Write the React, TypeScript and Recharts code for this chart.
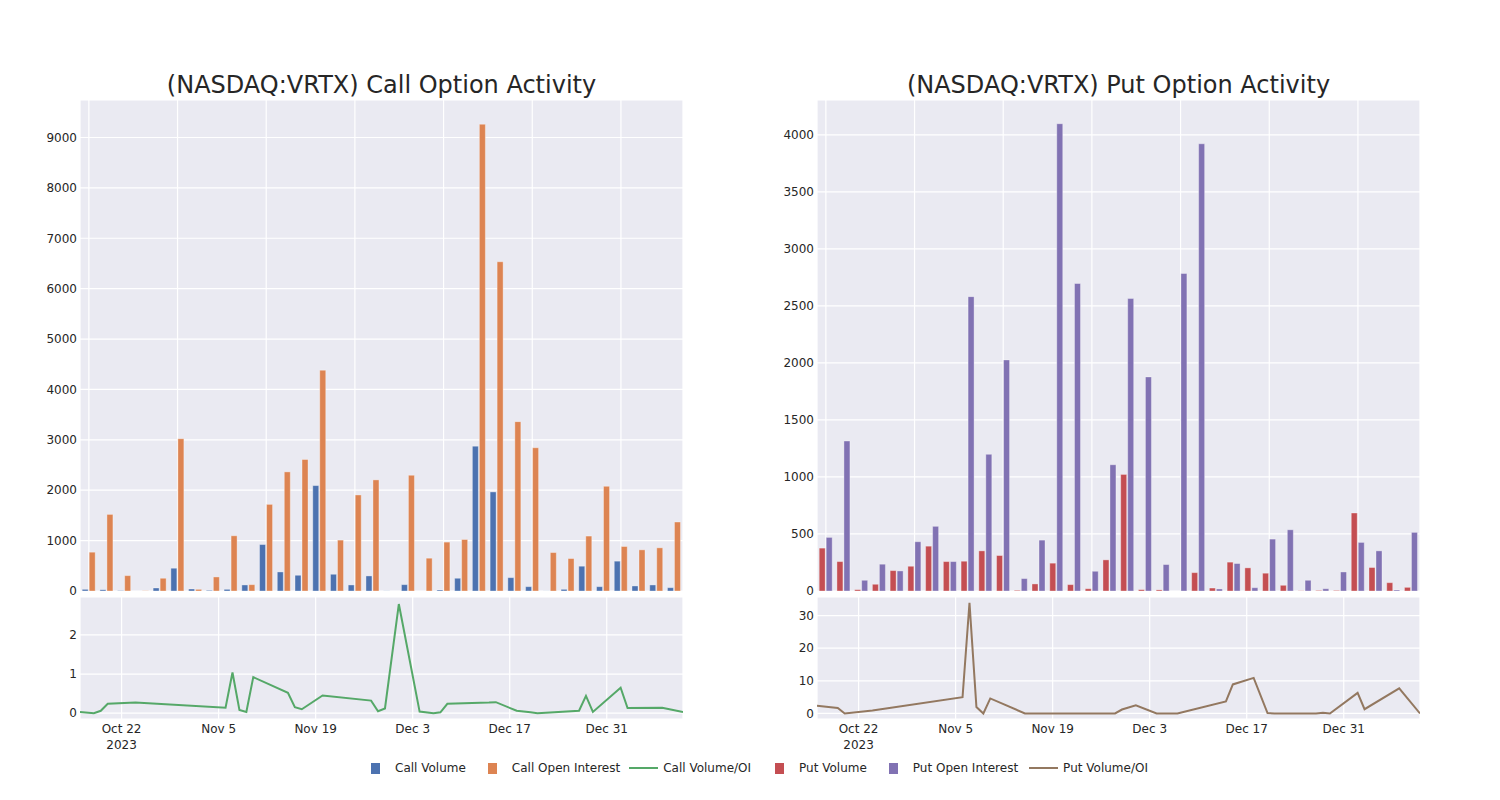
import React from "react";
import { BarChart, Bar, LineChart, Line, XAxis, YAxis, CartesianGrid } from "recharts";

// trading days that have option data
const dates = [
  "2023-10-16", "2023-10-18", "2023-10-19", "2023-10-20", "2023-10-24",
  "2023-11-06", "2023-11-07", "2023-11-08", "2023-11-09", "2023-11-10",
  "2023-11-15", "2023-11-16", "2023-11-17", "2023-11-20", "2023-11-27",
  "2023-11-28", "2023-11-29", "2023-12-01", "2023-12-04", "2023-12-06",
  "2023-12-07", "2023-12-08", "2023-12-14", "2023-12-15", "2023-12-18",
  "2023-12-20", "2023-12-21", "2023-12-27", "2023-12-28", "2023-12-29",
  "2024-01-02", "2024-01-03", "2024-01-08", "2024-01-11",
];

const callVolume = [
  33, 25, 8, 0, 60, 452, 40, 13, 33, 120, 922, 378, 312, 2092, 332, 120, 299,
  3, 126, 0, 20, 253, 2875, 1966, 265, 86, 2, 33, 492, 86, 592, 100, 120, 66,
];
const callOpenInterest = [
  770, 1520, 305, 5, 253, 3022, 33, 279, 1096, 126, 1719, 2364, 2610, 4382, 1010,
  1906, 2205, 0, 2297, 651, 970, 1022, 9263, 6534, 3361, 2843, 763, 644, 1090,
  2078, 883, 817, 857, 1369,
];
const callRatio = [
  0.03, 0.0, 0.06, 0.24, 0.27, 0.14, 1.04, 0.08, 0.03, 0.92, 0.52, 0.15, 0.1,
  0.45, 0.32, 0.05, 0.12, 2.79, 0.04, 0.0, 0.02, 0.24, 0.27, 0.28, 0.06, 0.02,
  0.0, 0.06, 0.44, 0.03, 0.65, 0.13, 0.14, 0.03,
];

const putVolume = [
  376, 258, 12, 59, 179, 217, 393, 258, 261, 352, 311, 6, 62, 244, 56, 20, 273,
  1022, 12, 10, 0, 161, 26, 253, 203, 156, 50, 2, 5, 5, 684, 206, 73, 32,
];
const putOpenInterest = [
  470, 1315, 94, 235, 176, 432, 567, 258, 2581, 1198, 2026, 109, 446, 4097, 2696,
  173, 1107, 2564, 1877, 232, 2784, 3921, 18, 241, 29, 455, 537, 94, 20, 167,
  426, 352, 9, 514,
];
const putRatio = [
  2.4, 1.9, 1.65, 0, 0.9, 5.0, 33.9, 2.0, 0, 4.6, 0, 0, 0, 0, 0, 0, 1.2, 2.5, 0,
  0, 0, 0.5, 3.7, 8.9, 10.9, 0.1, 0, 0, 0.2, 0, 6.3, 1.3, 7.7, 0,
];

const dateTicks = ["2023-10-22", "2023-11-05", "2023-11-19", "2023-12-03", "2023-12-17", "2023-12-31"];
const callVolumeTicks = [0, 1000, 2000, 3000, 4000, 5000, 6000, 7000, 8000, 9000];
const putVolumeTicks = [0, 500, 1000, 1500, 2000, 2500, 3000, 3500, 4000];
const callRatioTicks = [0, 1, 2];
const putRatioTicks = [0, 10, 20, 30];

const MONTHS = ["Jan", "Feb", "Mar", "Apr", "May", "Jun", "Jul", "Aug", "Sep", "Oct", "Nov", "Dec"];
const FONT = "'DejaVu Sans', sans-serif";
const TEXT = "#262626";
const BG = "#EAEAF2";

const toTime = (d: string) => Date.parse(d + "T00:00:00Z");

function DateTick(props: any) {
  const { x, y, payload, index } = props;
  const d = new Date(payload.value);
  return (
    <text x={x} y={y} textAnchor="middle" fill={TEXT} fontSize={12} fontFamily={FONT}>
      <tspan x={x} dy={10}>{`${MONTHS[d.getUTCMonth()]} ${d.getUTCDate()}`}</tspan>
      {index === 0 && (
        <tspan x={x} dy={16}>
          {d.getUTCFullYear()}
        </tspan>
      )}
    </text>
  );
}

// bar x-axis keeps its ticks (for the grid) but draws no labels
const NoTick = () => <g />;

interface PanelProps {
  left: number;
  title: string;
  volume: number[];
  openInterest: number[];
  ratio: number[];
  volumeColor: string;
  oiColor: string;
  ratioColor: string;
  volumeMax: number;
  volumeTicks: number[];
  ratioDomain: [number, number];
  ratioTicks: number[];
}

function Panel(p: PanelProps) {
  const barData = dates.map((d, i) => ({ date: d, volume: p.volume[i], oi: p.openInterest[i] }));
  const lineData = dates.map((d, i) => ({ t: toTime(d), ratio: p.ratio[i] }));
  const gridDates = dates.filter((_, i) => i % 5 === 0);
  const tick = { fontSize: 12, fill: TEXT, fontFamily: FONT };

  return (
    <div style={{ position: "absolute", left: p.left, top: 0, width: 700, height: 760 }}>
      <div
        style={{
          position: "absolute",
          left: 80,
          top: 70,
          width: 603,
          textAlign: "center",
          fontFamily: FONT,
          fontSize: 24,
          lineHeight: "30px",
          color: TEXT,
        }}
      >
        {p.title}
      </div>
      <div style={{ position: "absolute", left: 0, top: 0 }}>
        <BarChart
          width={700}
          height={600}
          data={barData}
          margin={{ top: 100, right: 17, left: 0, bottom: 9 }}
          barCategoryGap="12.4%"
          barGap={1}
        >
          <CartesianGrid stroke="#ffffff" strokeWidth={1.2} fill={BG} fillOpacity={1} />
          <XAxis
            dataKey="date"
            ticks={gridDates}
            interval={0}
            tick={NoTick}
            tickLine={false}
            axisLine={false}
            height={0}
          />
          <YAxis
            domain={[0, p.volumeMax]}
            ticks={p.volumeTicks}
            width={80}
            tickSize={0}
            tickMargin={3}
            tickLine={false}
            axisLine={false}
            tick={tick}
            allowDataOverflow
          />
          <Bar dataKey="volume" fill={p.volumeColor} stroke="rgba(255,255,255,0.35)" isAnimationActive={false} />
          <Bar dataKey="oi" fill={p.oiColor} stroke="rgba(255,255,255,0.35)" isAnimationActive={false} />
        </BarChart>
      </div>
      <div style={{ position: "absolute", left: 0, top: 590 }}>
        <LineChart width={700} height={170} data={lineData} margin={{ top: 7, right: 17, left: 0, bottom: 0 }}>
          <CartesianGrid stroke="#ffffff" strokeWidth={1.2} fill={BG} fillOpacity={1} />
          <XAxis
            dataKey="t"
            type="number"
            domain={[toTime(dates[0]), toTime(dates[dates.length - 1])]}
            ticks={dateTicks.map(toTime)}
            interval={0}
            tick={<DateTick />}
            tickSize={0}
            tickMargin={4}
            tickLine={false}
            axisLine={false}
            height={41}
            allowDataOverflow
          />
          <YAxis
            domain={p.ratioDomain}
            ticks={p.ratioTicks}
            width={80}
            tickSize={0}
            tickMargin={3}
            tickLine={false}
            axisLine={false}
            tick={tick}
            allowDataOverflow
          />
          <Line
            type="linear"
            dataKey="ratio"
            stroke={p.ratioColor}
            strokeWidth={2}
            dot={false}
            isAnimationActive={false}
          />
        </LineChart>
      </div>
    </div>
  );
}

const legendItems = [
  { label: "Call Volume", color: "#4C72B0", kind: "rect", gap: 0 },
  { label: "Call Open Interest", color: "#DD8452", kind: "rect", gap: 22 },
  { label: "Call Volume/OI", color: "#55A868", kind: "line", gap: 9 },
  { label: "Put Volume", color: "#C44E52", kind: "rect", gap: 24 },
  { label: "Put Open Interest", color: "#8172B3", kind: "rect", gap: 22 },
  { label: "Put Volume/OI", color: "#937860", kind: "line", gap: 11 },
];

export default function App() {
  return (
    <div
      style={{
        position: "absolute",
        left: 0,
        top: 0,
        width: 1500,
        height: 800,
        background: "#ffffff",
        overflow: "hidden",
      }}
    >
      <Panel
        left={0}
        title="(NASDAQ:VRTX) Call Option Activity"
        volume={callVolume}
        openInterest={callOpenInterest}
        ratio={callRatio}
        volumeColor="#4C72B0"
        oiColor="#DD8452"
        ratioColor="#55A868"
        volumeMax={9744}
        volumeTicks={callVolumeTicks}
        ratioDomain={[-0.15, 2.97]}
        ratioTicks={callRatioTicks}
      />
      <Panel
        left={737}
        title="(NASDAQ:VRTX) Put Option Activity"
        volume={putVolume}
        openInterest={putOpenInterest}
        ratio={putRatio}
        volumeColor="#C44E52"
        oiColor="#8172B3"
        ratioColor="#937860"
        volumeMax={4305}
        volumeTicks={putVolumeTicks}
        ratioDomain={[-1.7, 35.7]}
        ratioTicks={putRatioTicks}
      />
      <div
        style={{
          position: "absolute",
          left: 371,
          top: 760,
          height: 16,
          display: "flex",
          alignItems: "center",
          fontFamily: FONT,
          fontSize: 12,
          color: TEXT,
          whiteSpace: "nowrap",
        }}
      >
        {legendItems.map((it) => (
          <div key={it.label} style={{ display: "flex", alignItems: "center", marginLeft: it.gap }}>
            {it.kind === "rect" ? (
              <div style={{ width: 9, height: 11, background: it.color, marginRight: 15 }} />
            ) : (
              <div style={{ width: 29, height: 2, background: it.color, marginRight: 5 }} />
            )}
            <span>{it.label}</span>
          </div>
        ))}
      </div>
    </div>
  );
}
